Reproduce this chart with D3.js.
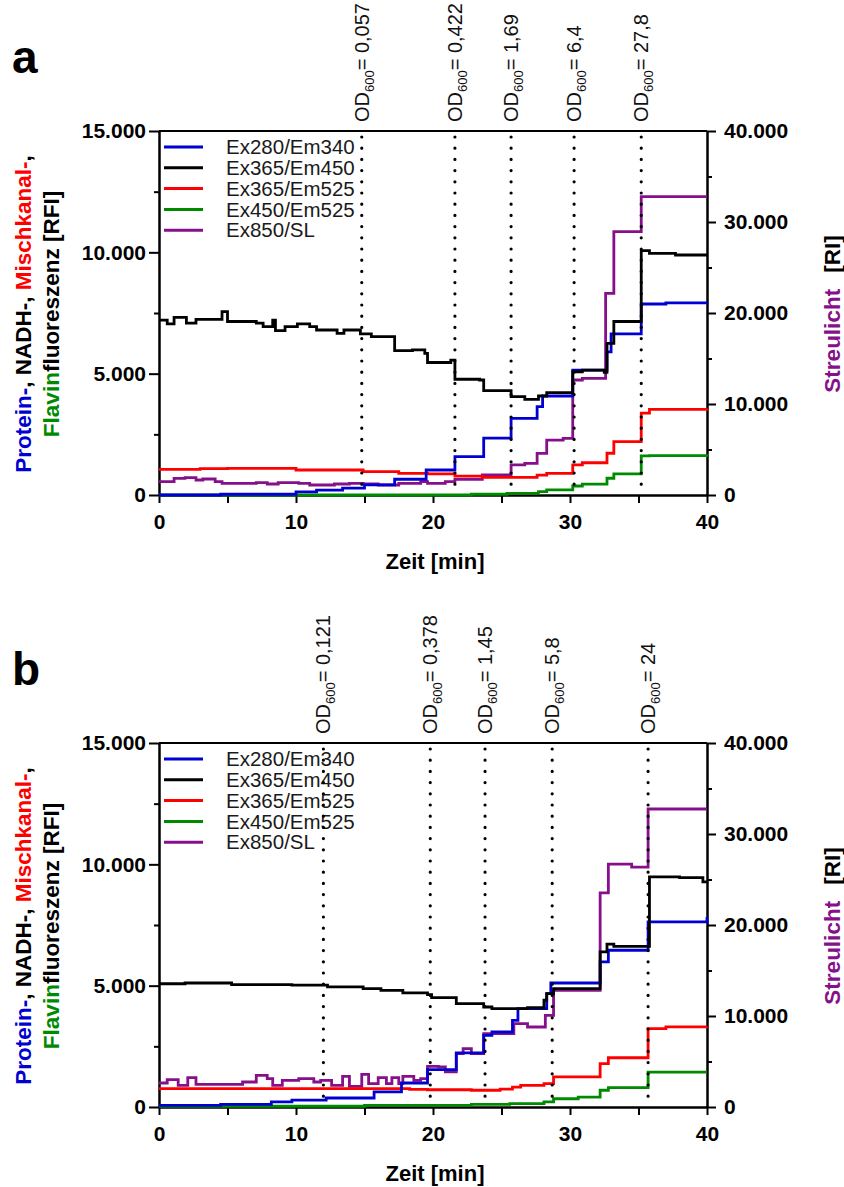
<!DOCTYPE html>
<html>
<head>
<meta charset="utf-8">
<script src="https://cdn.jsdelivr.net/npm/d3@7"></script>
<style>
  body { margin: 0; background: #fff; }
  svg { display: block; }
  text { font-family: "Liberation Sans", Arial, sans-serif; }
</style>
</head>
<body>
<svg id="chart"></svg>
<script>
// Size of the page
var w = 844;
var h = 1187;

// x axis (Zeit [min]) and the two y axes
var xTicks = [0, 10, 20, 30, 40];
var xMinorTicks = [5, 15, 25, 35];
var leftTicks = [0, 5000, 10000, 15000];
var leftMinorTicks = [2500, 7500, 12500];
var rightTicks = [0, 10000, 20000, 30000, 40000];
var rightMinorTicks = [5000, 15000, 25000, 35000];

var seriesNames = ["Ex280/Em340", "Ex365/Em450", "Ex365/Em525", "Ex450/Em525", "Ex850/SL"];

// Panel a: OD600 sampling points
var odTimesA = [14.8, 21.6, 25.7, 30.3, 35.2];
var odLabelsA = ["0,057", "0,422", "1,69", "6,4", "27,8"];

// Panel a: step curves [time, value]
var blueA = [[0, 0], [4.5, 30], [10, 130], [11.5, 200], [13.4, 280], [15, 420], [17.2, 650], [19.5, 1030],
  [21.6, 1580], [23.7, 2340], [25.7, 3160], [27.6, 3640], [28, 4080], [30.2, 5150], [32.7, 5900],
  [33, 6640], [35.2, 7870], [37, 7920], [40, 7930]];
var blackA = [[0, 7210], [0.6, 7050], [1.1, 7320], [2.0, 7080], [2.7, 7240], [4.6, 7560], [5.0, 7150],
  [7.1, 7080], [7.6, 6940], [8.3, 7210], [8.5, 6770], [9.2, 6940], [10.1, 7050], [11.0, 6940],
  [11.5, 6800], [13.0, 6660], [13.5, 6800], [14.7, 6640], [15.5, 6530], [17.2, 5950], [18.5, 5980],
  [19.4, 5840], [19.6, 5460], [21.3, 5560], [21.6, 4770], [23.4, 4740], [23.7, 4300], [25.7, 4050],
  [26.7, 3940], [27.7, 4080], [28.3, 4220], [30.2, 5080], [30.9, 5150], [32.5, 5050], [32.7, 6250],
  [33.2, 7150], [35.2, 10070], [35.8, 9960], [37.7, 9890], [40, 9890]];
var redA = [[0, 1060], [3, 1090], [5, 1100], [10, 1030], [14.9, 960], [17.5, 890], [19.6, 870],
  [21.6, 780], [23.6, 730], [27.6, 820], [28.3, 890], [30.2, 1240], [30.9, 1330], [32.7, 1720],
  [33.2, 2200], [35.2, 3370], [35.8, 3530], [40, 3560]];
var greenA = [[0, 0], [22.8, 30], [25.4, 70], [27.7, 140], [28.3, 210], [30.2, 370], [30.9, 450],
  [32.7, 690], [33.2, 870], [35.2, 1610], [35.8, 1620], [40, 1580]];
var purpleA = [[0, 1470], [1.1, 1830], [1.9, 1900], [2.7, 1650], [3.2, 1760], [4.1, 1470], [4.6, 1280],
  [7.1, 1360], [7.9, 1210], [8.7, 1360], [10.2, 1280], [11.0, 1100], [12.8, 1210], [13.9, 1280],
  [14.9, 1210], [16.0, 1100], [17.5, 1280], [19.1, 1470], [19.6, 1280], [20.9, 1470], [21.6, 1720],
  [23.6, 2200], [25.7, 3300], [26.7, 3480], [27.6, 4580], [28.3, 6040], [29.5, 6230], [30.2, 12640],
  [30.9, 12820], [32.6, 22160], [33.2, 28940], [35.2, 32780], [40, 32780]];

// Panel b: OD600 sampling points
var odTimesB = [12.0, 19.8, 23.8, 28.7, 35.7];
var odLabelsB = ["0,121", "0,378", "1,45", "5,8", "24"];

// Panel b: step curves [time, value]
var blueB = [[0, 70], [4.5, 110], [8.2, 210], [9.7, 280], [12.2, 370], [15.7, 620], [17.7, 990],
  [19.6, 1540], [21.7, 2230], [23.7, 2950], [24.3, 3090], [25.8, 3570], [26.2, 4050], [28.3, 4670],
  [28.6, 5110], [32.2, 5980], [32.8, 6460], [35.7, 7630], [40, 7830]];
var blackB = [[0, 5080], [1.9, 5110], [5.3, 5040], [9.7, 5020], [12.3, 4950], [14.9, 4880], [16.2, 4810],
  [17.8, 4700], [19.6, 4630], [19.9, 4510], [21.7, 4260], [23.7, 4120], [24.3, 4050], [26.9, 4090],
  [28.1, 4400], [28.3, 4670], [28.8, 4880], [32.2, 6390], [32.7, 6710], [33.2, 6620], [35.8, 9480],
  [38, 9450], [39.7, 9280], [40, 9280]];
var redB = [[0, 760], [10, 760], [18.3, 730], [19.6, 710], [22.8, 690], [24.9, 740], [25.8, 820],
  [26.4, 890], [28.1, 960], [28.8, 1240], [32.2, 1790], [32.8, 2030], [35.7, 3230], [37, 3300], [40, 3320]];
var greenB = [[0, 30], [15, 70], [22.8, 110], [25.6, 140], [28.1, 210], [28.8, 340], [30.6, 410],
  [32.2, 690], [32.8, 800], [35.7, 1440], [40, 1440]];
var purpleB = [[0, 2640], [0.6, 3000], [1.4, 2380], [2.1, 3220], [2.7, 2490], [6.1, 2750], [7.1, 3480],
  [7.9, 3110], [8.3, 2380], [9.0, 2930], [10.2, 3110], [11.3, 2750], [11.8, 2930], [12.6, 2380],
  [13.4, 3370], [13.9, 2270], [14.8, 3590], [15.3, 2560], [16.0, 3220], [16.6, 2560], [17.0, 3220],
  [17.5, 2560], [17.8, 3370], [18.6, 2930], [19.1, 3110], [19.6, 4470], [20.4, 4400], [20.9, 3850],
  [21.7, 5860], [22.2, 6410], [22.8, 5860], [23.7, 8060], [25.9, 9160], [26.9, 8790], [28.2, 10070],
  [28.8, 12820], [32.2, 23520], [32.8, 26700], [34.5, 26370], [35.7, 32750], [40, 32750]];

var colors = {
  blue: "#0000d2",
  black: "#000000",
  red: "#ff0000",
  green: "#008a00",
  purple: "#86108a"
};

// German number format: 15.000
var de = d3.formatLocale({ decimal: ",", thousands: ".", grouping: [3], currency: ["", ""] });
var fmt = de.format(",");

var svg = d3.select("#chart")
    .attr("width", w)
    .attr("height", h);

var font = '"Liberation Sans", Arial, sans-serif';

function drawPanel(p) {
    var g = svg.append("g").attr("transform", "translate(0," + p.top + ")");

    var x = d3.scaleLinear().domain([0, 40]).range([159, 707]);
    var y = d3.scaleLinear().domain([0, 15000]).range([364, 0]);
    var y2 = d3.scaleLinear().domain([0, 40000]).range([364, 0]);

    // panel letter
    g.append("text")
        .attr("x", 12)
        .attr("y", -58)
        .attr("font-size", 46)
        .attr("font-weight", "bold")
        .text(p.letter);

    // minor ticks first
    g.append("g").attr("class", "axis")
        .attr("transform", "translate(159,0)")
        .call(d3.axisLeft(y).tickValues(leftMinorTicks).tickSize(5).tickSizeOuter(0).tickFormat(""));
    g.append("g").attr("class", "axis")
        .attr("transform", "translate(707,0)")
        .call(d3.axisRight(y2).tickValues(rightMinorTicks).tickSize(5).tickSizeOuter(0).tickFormat(""));
    g.append("g").attr("class", "axis")
        .attr("transform", "translate(0,364)")
        .call(d3.axisBottom(x).tickValues(xMinorTicks).tickSize(8).tickSizeOuter(0).tickFormat(""));

    // major ticks with labels
    g.append("g").attr("class", "axis")
        .attr("transform", "translate(159,0)")
        .call(d3.axisLeft(y).tickValues(leftTicks).tickSize(10).tickPadding(3).tickSizeOuter(0).tickFormat(fmt));
    g.append("g").attr("class", "axis")
        .attr("transform", "translate(707,0)")
        .call(d3.axisRight(y2).tickValues(rightTicks).tickSize(9).tickPadding(8).tickSizeOuter(0).tickFormat(fmt));
    g.append("g").attr("class", "axis")
        .attr("transform", "translate(0,364)")
        .call(d3.axisBottom(x).tickValues(xTicks).tickSize(8).tickPadding(11).tickSizeOuter(0).tickFormat(d3.format("d")));

    // top frame line
    g.append("line")
        .attr("x1", x(0)).attr("x2", x(40))
        .attr("y1", 0).attr("y2", 0)
        .attr("stroke", "#000").attr("stroke-width", 2);

    g.selectAll(".axis path, .axis line").attr("stroke", "#000").attr("stroke-width", 2);
    g.selectAll(".axis text")
        .attr("font-family", font)
        .attr("font-size", 21)
        .attr("font-weight", "bold")
        .attr("fill", "#000");

    // axis titles
    g.append("text")
        .attr("x", 435).attr("y", 438)
        .attr("text-anchor", "middle")
        .attr("font-size", 22).attr("font-weight", "bold")
        .text("Zeit [min]");

    var lt1 = g.append("text")
        .attr("transform", "translate(31,183) rotate(-90)")
        .attr("text-anchor", "middle")
        .attr("font-size", 22.5).attr("font-weight", "bold");
    lt1.append("tspan").attr("fill", colors.blue).text("Protein-");
    lt1.append("tspan").attr("fill", "#000").text(", NADH-, ");
    lt1.append("tspan").attr("fill", colors.red).text("Mischkanal-");
    lt1.append("tspan").attr("fill", "#000").text(",");

    var lt2 = g.append("text")
        .attr("transform", "translate(59,183) rotate(-90)")
        .attr("text-anchor", "middle")
        .attr("font-size", 22.5).attr("font-weight", "bold");
    lt2.append("tspan").attr("fill", colors.green).text("Flavin");
    lt2.append("tspan").attr("fill", "#000").text("fluoreszenz [RFI]");

    var rt = g.append("text")
        .attr("transform", "translate(840,183) rotate(-90)")
        .attr("text-anchor", "middle")
        .attr("font-size", 22.5).attr("font-weight", "bold");
    rt.append("tspan").attr("fill", colors.purple).text("Streulicht");
    rt.append("tspan").attr("fill", "#000").attr("dx", 16).text("[RI]");

    // data lines
    var line = d3.line()
        .x(d => x(d[0]))
        .y(d => y(d[1]))
        .curve(d3.curveStepAfter);
    var line2 = d3.line()
        .x(d => x(d[0]))
        .y(d => y2(d[1]))
        .curve(d3.curveStepAfter);

    var series = [
        { data: p.purple, color: colors.purple, gen: line2 },
        { data: p.green, color: colors.green, gen: line },
        { data: p.red, color: colors.red, gen: line },
        { data: p.blue, color: colors.blue, gen: line },
        { data: p.black, color: colors.black, gen: line }
    ];
    g.selectAll(".series")
        .data(series)
        .enter().append("path")
        .attr("class", "series")
        .attr("fill", "none")
        .attr("stroke", d => d.color)
        .attr("stroke-width", 2.8)
        .attr("stroke-linejoin", "miter")
        .attr("d", d => d.gen(d.data));

    // legend
    var legendColors = [colors.blue, colors.black, colors.red, colors.green, colors.purple];
    var legend = g.append("g").attr("class", "legend");
    legend.selectAll("line")
        .data(seriesNames)
        .enter().append("line")
        .attr("x1", 164).attr("x2", 203)
        .attr("y1", (d, i) => 16 + i * 20.8)
        .attr("y2", (d, i) => 16 + i * 20.8)
        .attr("stroke", (d, i) => legendColors[i])
        .attr("stroke-width", 3);
    legend.selectAll("text")
        .data(seriesNames)
        .enter().append("text")
        .attr("x", 226)
        .attr("y", (d, i) => 16 + i * 20.8)
        .attr("dy", "0.35em")
        .attr("font-size", 20.5)
        .attr("fill", "#1a1a1a")
        .text(d => d);

    // OD600 dotted markers
    g.selectAll(".od")
        .data(p.odTimes)
        .enter().append("line")
        .attr("class", "od")
        .attr("x1", d => x(d)).attr("x2", d => x(d))
        .attr("y1", 6).attr("y2", 362)
        .attr("stroke", "#000")
        .attr("stroke-width", 3.2)
        .attr("stroke-linecap", "round")
        .attr("stroke-dasharray", "0,11.2");

    var od = g.selectAll(".odlabel")
        .data(p.odTimes)
        .enter().append("text")
        .attr("class", "odlabel")
        .attr("transform", d => "translate(" + (x(d) + 7) + ",-9) rotate(-90)")
        .attr("font-size", 20)
        .attr("fill", "#111");
    od.append("tspan").text("OD");
    od.append("tspan").attr("font-size", 13).attr("dy", 5).text("600");
    od.append("tspan").attr("dy", -5).text((d, i) => "= " + p.odLabels[i]);
}

drawPanel({
    top: 131, letter: "a",
    blue: blueA, black: blackA, red: redA, green: greenA, purple: purpleA,
    odTimes: odTimesA, odLabels: odLabelsA
});

drawPanel({
    top: 743, letter: "b",
    blue: blueB, black: blackB, red: redB, green: greenB, purple: purpleB,
    odTimes: odTimesB, odLabels: odLabelsB
});
</script>
</body>
</html>
